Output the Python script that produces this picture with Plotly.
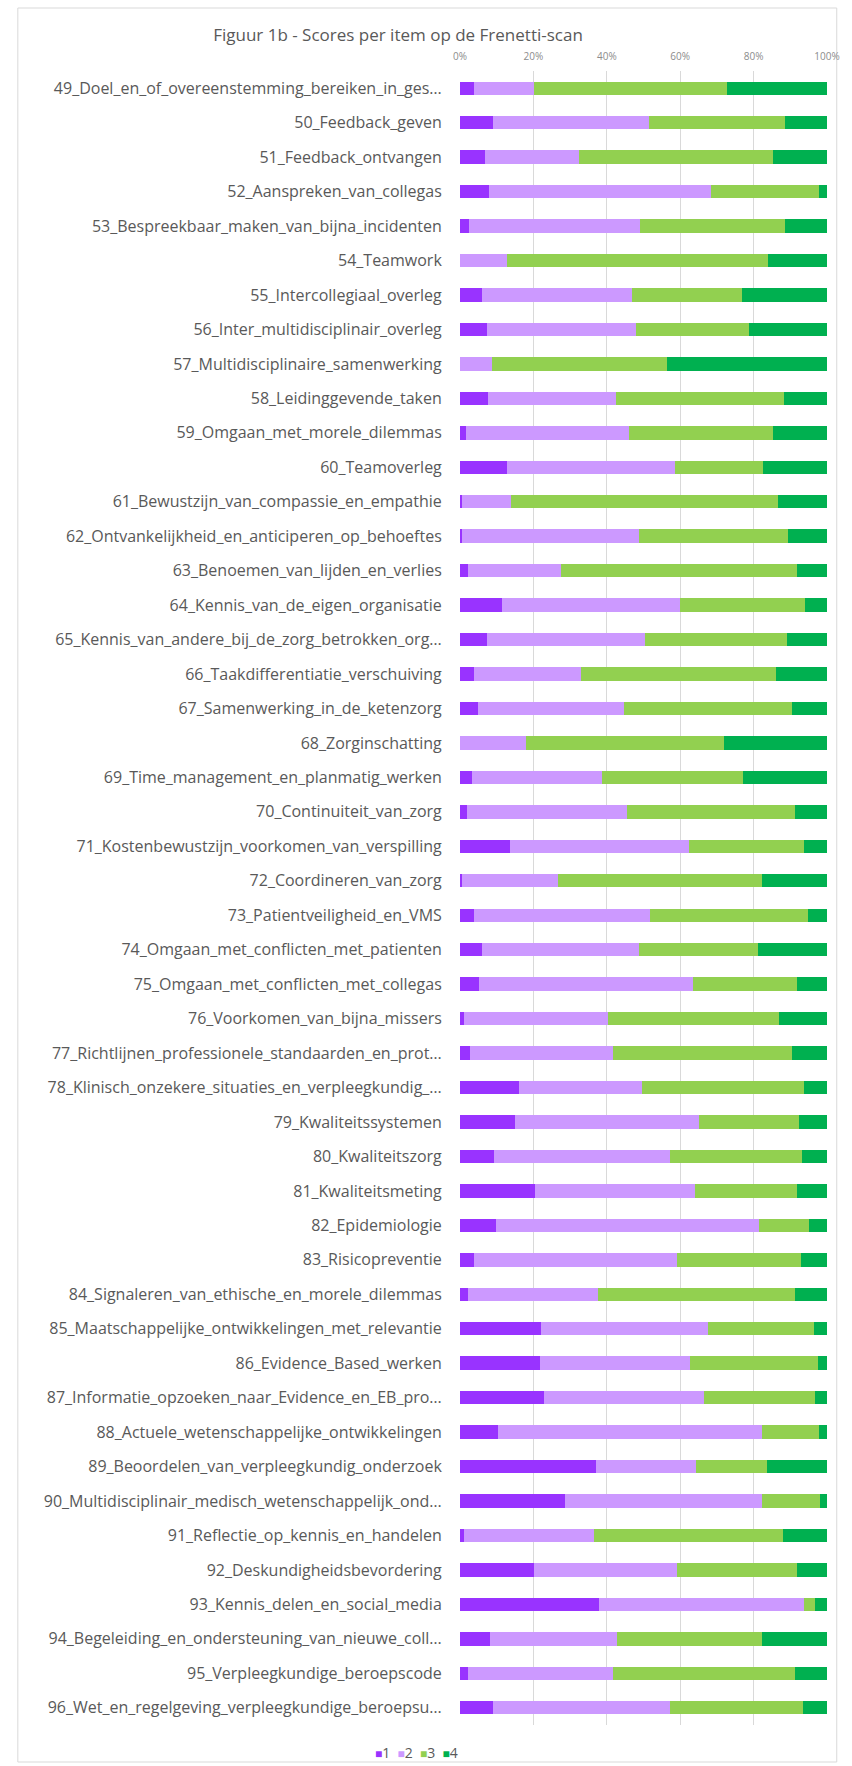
import plotly.graph_objects as go

# | data section |
items = [
    "49_Doel_en_of_overeenstemming_bereiken_in_ges…",
    "50_Feedback_geven",
    "51_Feedback_ontvangen",
    "52_Aanspreken_van_collegas",
    "53_Bespreekbaar_maken_van_bijna_incidenten",
    "54_Teamwork",
    "55_Intercollegiaal_overleg",
    "56_Inter_multidisciplinair_overleg",
    "57_Multidisciplinaire_samenwerking",
    "58_Leidinggevende_taken",
    "59_Omgaan_met_morele_dilemmas",
    "60_Teamoverleg",
    "61_Bewustzijn_van_compassie_en_empathie",
    "62_Ontvankelijkheid_en_anticiperen_op_behoeftes",
    "63_Benoemen_van_lijden_en_verlies",
    "64_Kennis_van_de_eigen_organisatie",
    "65_Kennis_van_andere_bij_de_zorg_betrokken_org…",
    "66_Taakdifferentiatie_verschuiving",
    "67_Samenwerking_in_de_ketenzorg",
    "68_Zorginschatting",
    "69_Time_management_en_planmatig_werken",
    "70_Continuiteit_van_zorg",
    "71_Kostenbewustzijn_voorkomen_van_verspilling",
    "72_Coordineren_van_zorg",
    "73_Patientveiligheid_en_VMS",
    "74_Omgaan_met_conflicten_met_patienten",
    "75_Omgaan_met_conflicten_met_collegas",
    "76_Voorkomen_van_bijna_missers",
    "77_Richtlijnen_professionele_standaarden_en_prot…",
    "78_Klinisch_onzekere_situaties_en_verpleegkundig_…",
    "79_Kwaliteitssystemen",
    "80_Kwaliteitszorg",
    "81_Kwaliteitsmeting",
    "82_Epidemiologie",
    "83_Risicopreventie",
    "84_Signaleren_van_ethische_en_morele_dilemmas",
    "85_Maatschappelijke_ontwikkelingen_met_relevantie",
    "86_Evidence_Based_werken",
    "87_Informatie_opzoeken_naar_Evidence_en_EB_pro…",
    "88_Actuele_wetenschappelijke_ontwikkelingen",
    "89_Beoordelen_van_verpleegkundig_onderzoek",
    "90_Multidisciplinair_medisch_wetenschappelijk_ond…",
    "91_Reflectie_op_kennis_en_handelen",
    "92_Deskundigheidsbevordering",
    "93_Kennis_delen_en_social_media",
    "94_Begeleiding_en_ondersteuning_van_nieuwe_coll…",
    "95_Verpleegkundige_beroepscode",
    "96_Wet_en_regelgeving_verpleegkundige_beroepsu…",
]

score_1 = [3.8, 8.9, 6.9, 8.0, 2.5, 0.0, 5.9, 7.3, 0.0, 7.5, 1.7, 12.8,
           0.6, 0.6, 2.2, 11.5, 7.4, 3.9, 4.9, 0.0, 3.2, 1.8, 13.5, 0.6,
           3.9, 5.9, 5.1, 1.2, 2.8, 16.1, 15.1, 9.3, 20.4, 9.8, 3.9, 2.3,
           22.2, 21.8, 22.9, 10.4, 37.1, 28.5, 1.2, 20.1, 37.8, 8.3, 2.3, 8.9]
score_2 = [16.4, 42.7, 25.5, 60.3, 46.5, 12.9, 41.0, 40.6, 8.7, 35.1, 44.4, 45.9,
           13.4, 48.2, 25.3, 48.4, 43.0, 29.1, 39.9, 18.0, 35.4, 43.7, 48.8, 26.0,
           48.0, 43.0, 58.3, 39.2, 38.9, 33.6, 49.9, 47.8, 43.5, 71.8, 55.2, 35.3,
           45.4, 40.8, 43.6, 71.9, 27.1, 53.8, 35.4, 39.0, 56.0, 34.5, 39.4, 48.2]
score_3 = [52.6, 37.0, 53.0, 29.5, 39.6, 71.0, 29.9, 30.9, 47.8, 45.7, 39.1, 23.8,
           72.6, 40.6, 64.3, 34.2, 38.8, 53.1, 45.7, 53.9, 38.6, 45.7, 31.5, 55.6,
           42.8, 32.3, 28.4, 46.4, 48.8, 44.0, 27.3, 36.2, 27.8, 13.6, 33.8, 53.8,
           28.9, 35.0, 30.2, 15.5, 19.4, 15.7, 51.4, 32.7, 2.9, 39.5, 49.7, 36.3]
score_4 = [27.2, 11.4, 14.6, 2.2, 11.4, 16.1, 23.2, 21.2, 43.5, 11.7, 14.8, 17.5,
           13.4, 10.6, 8.2, 5.9, 10.8, 13.9, 9.5, 28.1, 22.8, 8.8, 6.2, 17.8,
           5.3, 18.8, 8.2, 13.2, 9.5, 6.3, 7.7, 6.7, 8.3, 4.8, 7.1, 8.6,
           3.5, 2.4, 3.3, 2.2, 16.4, 2.0, 12.0, 8.2, 3.3, 17.7, 8.6, 6.6]

series_names = ["1", "2", "3", "4"]
series_colors = ["#9933ff", "#cc99ff", "#92d050", "#00b050"]

x_ticks = [0, 20, 40, 60, 80, 100]
x_ticklabels = ["0%", "20%", "40%", "60%", "80%", "100%"]

# | layout section |
W, H = 852, 1766
PLOT_L, PLOT_R, PLOT_T, PLOT_B = 460, 836, 71, 1725
TEXT = "#595959"
FONT = "Open Sans"


def px_to_paper(x, y):
    return ((x - PLOT_L) / (PLOT_R - PLOT_L), (PLOT_B - y) / (PLOT_B - PLOT_T))


fig = go.Figure()
for name, vals, col in zip(series_names, [score_1, score_2, score_3, score_4], series_colors):
    fig.add_trace(
        go.Bar(
            y=items,
            x=vals,
            name=name,
            orientation="h",
            marker={"color": col, "line": {"width": 0}},
        )
    )

# compact Excel-like legend: coloured squares followed by the series name
legend_text = "  ".join(
    f"<span style='color:{c};font-size:12px'>■</span>{n}"
    for n, c in zip(series_names, series_colors)
)

x0, y0 = px_to_paper(7, 8)
x1, y1 = px_to_paper(846, 1762)

fig.update_layout(
    width=W,
    height=H,
    barmode="stack",
    bargap=0.61,
    showlegend=False,
    paper_bgcolor="white",
    plot_bgcolor="white",
    margin={"l": PLOT_L, "r": W - PLOT_R, "t": PLOT_T, "b": H - PLOT_B, "pad": 0},
    font={"family": FONT, "color": TEXT},
    title={
        "text": "Figuur 1b - Scores per item op de Frenetti-scan",
        "font": {"size": 17, "color": TEXT, "family": FONT},
        "xref": "container",
        "yref": "container",
        "x": 398 / W,
        "y": 1 - 35 / H,
        "xanchor": "center",
        "yanchor": "middle",
    },
    annotations=[
        dict(
            text=legend_text,
            xref="paper",
            yref="paper",
            x=px_to_paper(415, 0)[0],
            y=px_to_paper(0, 1752)[1],
            xanchor="center",
            yanchor="middle",
            showarrow=False,
            font={"size": 14, "color": TEXT, "family": FONT},
        )
    ],
    shapes=[
        dict(type="rect", xref="paper", yref="paper", x0=x0, x1=x1, y0=y0, y1=y1,
             line={"color": "#d9d9d9", "width": 1}, fillcolor="rgba(0,0,0,0)", layer="below"),
    ],
)

fig.update_xaxes(
    side="top",
    range=[0, 100],
    tickvals=x_ticks,
    ticktext=x_ticklabels,
    tickfont={"size": 10, "color": "#8c8c8c"},
    showgrid=True,
    gridcolor="#d9d9d9",
    gridwidth=1,
    zeroline=False,
    showline=False,
    ticks="outside",
    ticklen=6,
    tickcolor="rgba(0,0,0,0)",
)
fig.update_yaxes(
    categoryorder="array",
    categoryarray=items,
    autorange="reversed",
    tickfont={"size": 16, "color": TEXT},
    showgrid=False,
    zeroline=False,
    showline=False,
    ticks="outside",
    ticklen=14,
    tickcolor="rgba(0,0,0,0)",
)

fig.write_html(
    "out.html",
    config={"displayModeBar": False},
    post_script="document.body.style.margin='0';document.body.style.overflow='hidden';",
)
